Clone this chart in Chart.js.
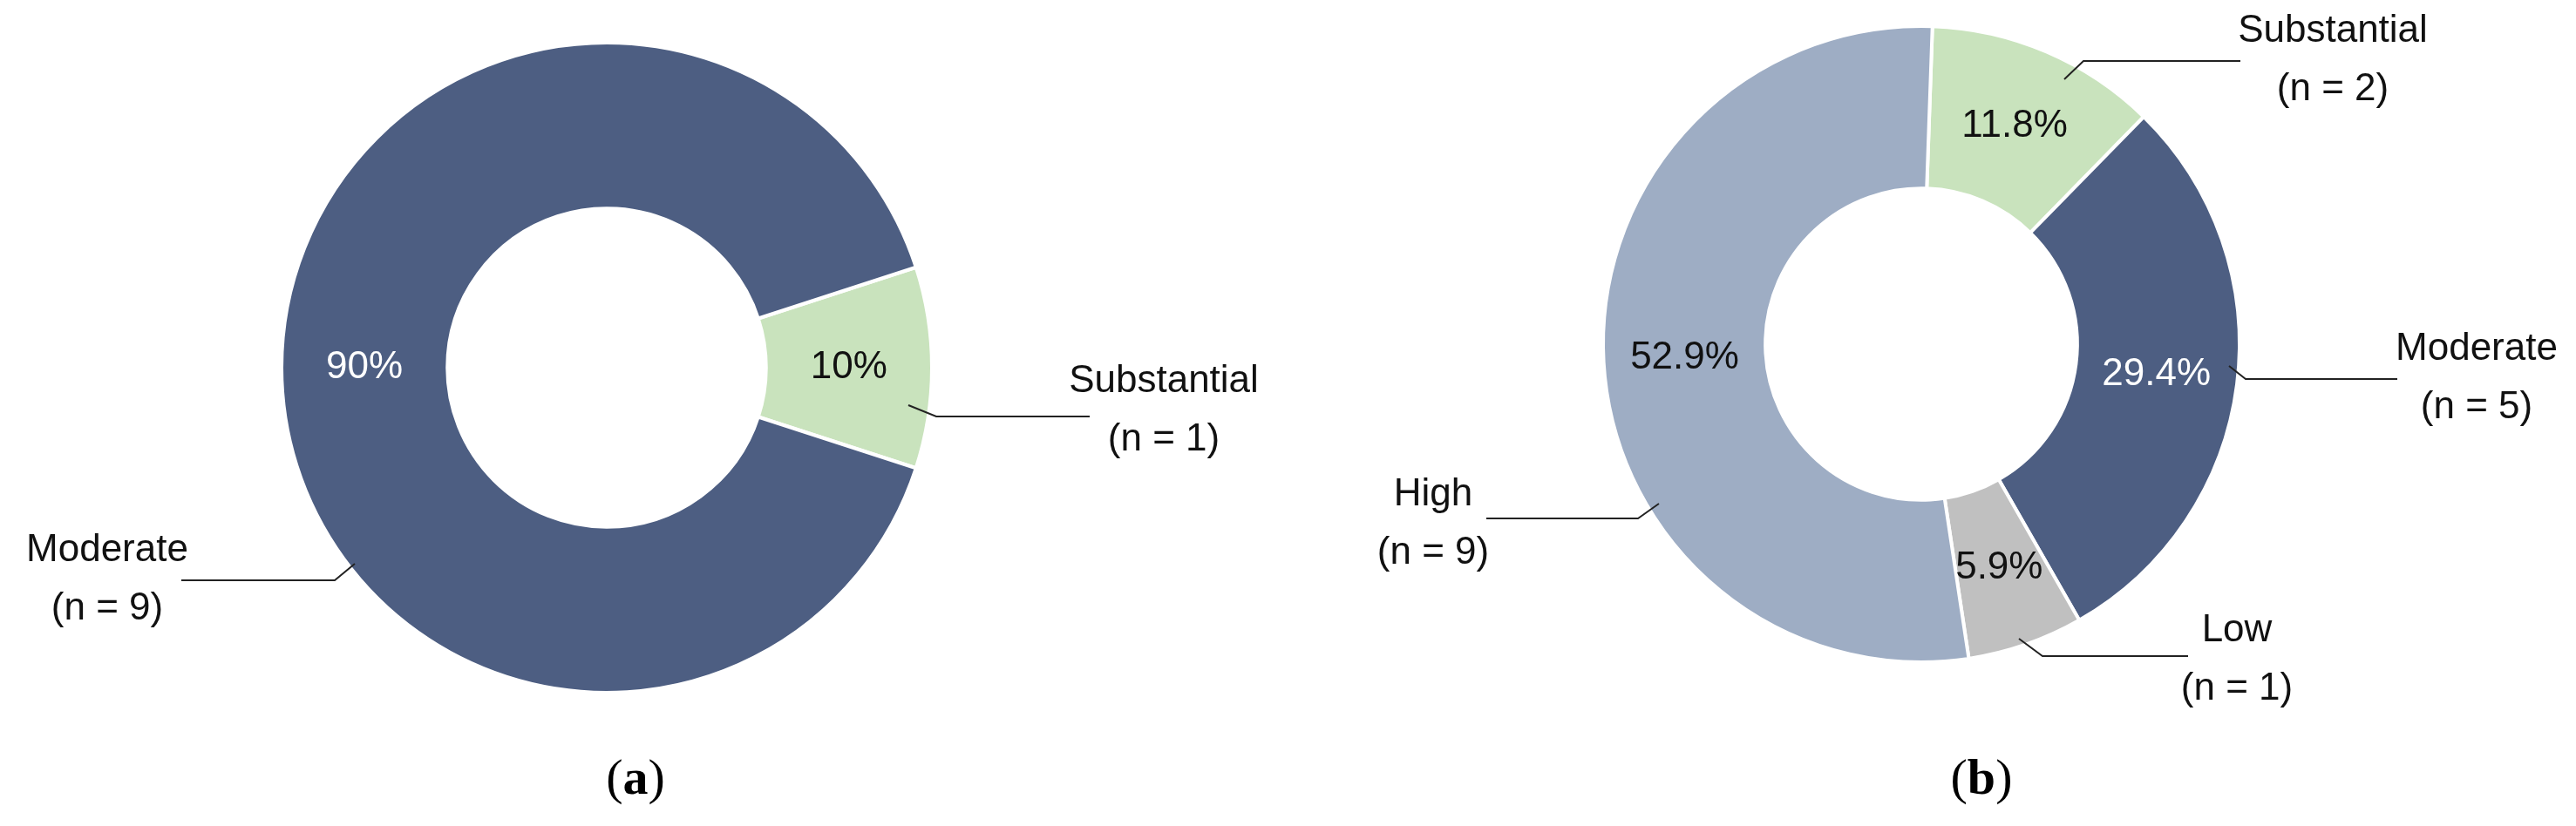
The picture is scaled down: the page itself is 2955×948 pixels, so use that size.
<!DOCTYPE html>
<html>
<head>
<meta charset="utf-8">
<script src="https://cdn.jsdelivr.net/npm/chart.js@4.4.0/dist/chart.umd.min.js"></script>
<style>
  body { margin: 0; background: #fff; width: 2955px; height: 948px; position: relative; overflow: hidden; }
  .box { position: absolute; top: 0; height: 948px; }
  .cap { position: absolute; top: 858px; font-family: "Liberation Serif", serif; font-size: 58px; color: #000; transform: translateX(-50%); }
  .cap b { font-weight: bold; }
</style>
</head>
<body>
<div class="box" style="left:0;width:1477px"><canvas id="chartA"></canvas></div>
<div class="box" style="left:1477px;width:1478px"><canvas id="chartB"></canvas></div>
<div class="cap" style="left:729px">(<b>a</b>)</div>
<div class="cap" style="left:2273px">(<b>b</b>)</div>
<script>
// data
var catsA = ["Substantial", "Moderate"];
var countsA = [1, 9];
var pctA = ["10%", "90%"];
var colorsA = ["#c9e3bd", "#4d5e82"];

var catsB = ["Substantial", "Moderate", "Low", "High"];
var countsB = [2, 5, 1, 9];
var pctB = ["11.8%", "29.4%", "5.9%", "52.9%"];
var colorsB = ["#c9e3bd", "#4d5e82", "#c0c0c0", "#9eadc4"];

var FONT = '"Liberation Sans", Arial, sans-serif';

// draws % labels in the ring and callout labels with leader lines
var labelPlugin = {
  id: 'labels',
  afterDatasetsDraw: function(chart, args, opts) {
    var ctx = chart.ctx;
    var meta = chart.getDatasetMeta(0);
    ctx.save();
    ctx.font = '44px ' + FONT;
    ctx.textAlign = 'center';
    ctx.textBaseline = 'middle';
    meta.data.forEach(function(arc, i) {
      var p = arc.tooltipPosition();
      ctx.fillStyle = opts.pctColors[i];
      ctx.fillText(opts.pct[i], p.x + (opts.pctShift[i] || 0), p.y);
    });
    opts.callouts.forEach(function(c) {
      ctx.strokeStyle = '#222';
      ctx.lineWidth = 2;
      ctx.beginPath();
      ctx.moveTo(c.line[0][0], c.line[0][1]);
      for (var k = 1; k < c.line.length; k++) ctx.lineTo(c.line[k][0], c.line[k][1]);
      ctx.stroke();
      ctx.fillStyle = '#111';
      ctx.fillText(c.name, c.x, c.y);
      ctx.fillText('(n = ' + c.n + ')', c.x, c.y + 67);
    });
    ctx.restore();
  }
};

function makeDoughnut(id, cats, counts, colors, rotation, padding, labelOpts) {
  return new Chart(document.getElementById(id), {
    type: 'doughnut',
    data: {
      labels: cats,
      datasets: [{
        data: counts,
        backgroundColor: colors,
        borderColor: '#fff',
        borderWidth: 4
      }]
    },
    options: {
      responsive: true,
      maintainAspectRatio: false,
      animation: false,
      cutout: '49%',
      rotation: rotation,
      layout: { padding: padding },
      plugins: { legend: { display: false }, tooltip: { enabled: false }, labels: labelOpts }
    },
    plugins: [labelPlugin]
  });
}

makeDoughnut('chartA', catsA, countsA, colorsA, 72,
  { left: 321, right: 406, top: 47, bottom: 151 },
  {
    pct: pctA, pctColors: ['#111', '#fff'], pctShift: [0, 0],
    callouts: [
      { name: catsA[0], n: countsA[0], x: 1335, y: 438, line: [[1042, 465], [1074, 478], [1250, 478]] },
      { name: catsA[1], n: countsA[1], x: 123, y: 632, line: [[407, 647], [384, 666], [208, 666]] }
    ]
  });

makeDoughnut('chartB', catsB, countsB, colorsB, 2,
  { left: 360, right: 384, top: 28, bottom: 186 },
  {
    pct: pctB, pctColors: ['#111', '#fff', '#111', '#111'], pctShift: [0, 0, 0, 0],
    callouts: [
      { name: catsB[0], n: countsB[0], x: 2676 - 1477, y: 36, line: [[2368 - 1477, 91], [2390 - 1477, 70], [2570 - 1477, 70]] },
      { name: catsB[1], n: countsB[1], x: 2841 - 1477, y: 401, line: [[2557 - 1477, 420], [2576 - 1477, 435], [2750 - 1477, 435]] },
      { name: catsB[2], n: countsB[2], x: 2566 - 1477, y: 724, line: [[2316 - 1477, 733], [2343 - 1477, 753], [2510 - 1477, 753]] },
      { name: catsB[3], n: countsB[3], x: 1644 - 1477, y: 568, line: [[1903 - 1477, 578], [1879 - 1477, 595], [1705 - 1477, 595]] }
    ]
  });
</script>
</body>
</html>
